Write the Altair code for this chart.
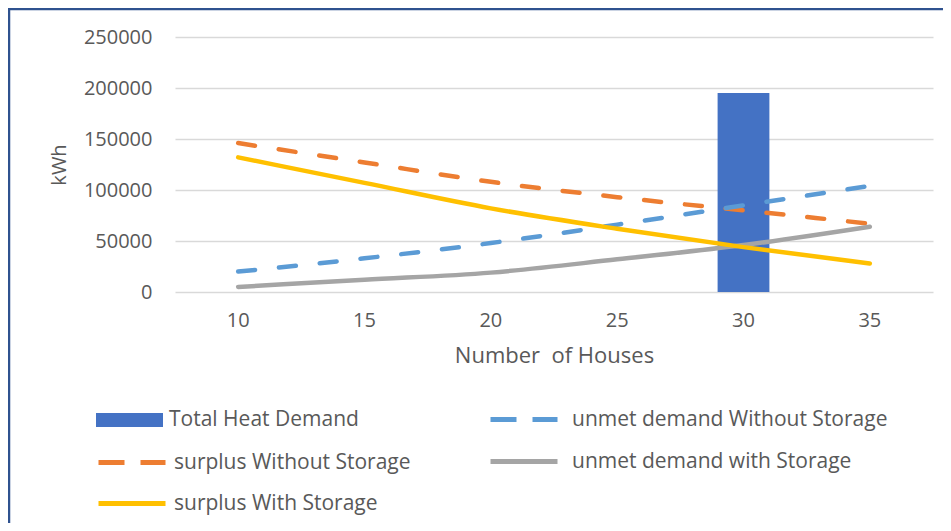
import altair as alt
import pandas as pd

houses = ["10", "15", "20", "25", "30", "35"]
total_heat_demand = [None, None, None, None, 195000, None]
surplus_without = [146000, 127000, 108000, 93000, 80000, 67000]
surplus_with = [132000, 107000, 82000, 62000, 44000, 28000]
unmet_without = [20000, 33000, 48000, 66000, 85000, 104000]
unmet_with = [5000, 12000, 19000, 32000, 46000, 64000]

series_names = [
    "Total Heat Demand",
    "unmet demand Without Storage",
    "surplus Without Storage",
    "unmet demand with Storage",
    "surplus With Storage",
]
series_colors = ["#4472C4", "#5B9BD5", "#ED7D31", "#A5A5A5", "#FFC000"]
series_values = [total_heat_demand, unmet_without, surplus_without, unmet_with, surplus_with]
series_dashed = [False, True, True, False, False]

rows = []
for name, vals in zip(series_names, series_values):
    for h, v in zip(houses, vals):
        if v is not None:
            rows.append({"houses": h, "series": name, "value": v})
df = pd.DataFrame(rows)

FONT = "Open Sans"
TXT = "#595959"

SYM = 67
SYM_SIZE = SYM * SYM
HALF = SYM / 2
# legend placement (relative to plot area origin): (x, y, labelOffset)
leg_pos = {
    "Total Heat Demand": (-79, 383 - HALF, 6),
    "surplus Without Storage": (-79, 423 - HALF, 6),
    "surplus With Storage": (-79, 464 - HALF, 6),
    "unmet demand Without Storage": (313, 380 - HALF, 12),
    "unmet demand with Storage": (313, 422 - HALF, 12),
}

x_enc = alt.X(
    "houses:N",
    sort=houses,
    scale=alt.Scale(paddingInner=0.59, paddingOuter=0.295),
    axis=alt.Axis(
        title="Number\u00a0 of Houses",
        labelAngle=0,
        ticks=False,
        domain=False,
        labelPadding=18,
        titlePadding=15,
        labelFont=FONT,
        labelFontSize=20,
        labelColor=TXT,
        titleFont=FONT,
        titleFontSize=22,
        titleFontWeight="normal",
        titleColor=TXT,
    ),
)
y_enc = alt.Y(
    "value:Q",
    scale=alt.Scale(domain=[0, 250000], nice=False),
    axis=alt.Axis(
        title="kWh",
        values=[0, 50000, 100000, 150000, 200000, 250000],
        format="d",
        ticks=False,
        domain=False,
        labelPadding=23,
        titlePadding=14,
        labelFont=FONT,
        labelFontSize=20,
        labelColor=TXT,
        titleFont=FONT,
        titleFontSize=20,
        titleFontWeight="normal",
        titleColor=TXT,
        gridColor="#D9D9D9",
        gridWidth=1.5,
    ),
)

base = alt.Chart(df)

layers = []

border = alt.Chart(pd.DataFrame({"k": [0]})).mark_rect(
    fill="transparent", stroke="#2F528F", strokeWidth=2.5
).encode(
    x=alt.value(-166), x2=alt.value(800), y=alt.value(-28), y2=alt.value(520)
)
layers.append(border)

for name, color, dashed in zip(series_names, series_colors, series_dashed):
    lx, ly, loff = leg_pos[name]
    if name == "Total Heat Demand":
        layer = base.transform_filter(alt.datum.series == name).mark_bar().encode(
            x=x_enc,
            y=y_enc,
            fill=alt.Fill(
                "series:N",
                scale=alt.Scale(domain=[name], range=[color]),
                legend=alt.Legend(
                    title=None,
                    orient="none",
                    legendX=lx,
                    legendY=ly,
                    padding=0,
                    symbolType="M-1,-0.21H1V0.21H-1Z",
                    symbolSize=SYM_SIZE,
                    symbolStrokeWidth=0,
                    labelFont=FONT,
                    labelFontSize=21,
                    labelColor=TXT,
                    labelOffset=loff,
                    labelLimit=400,
                ),
            ),
        )
    else:
        legend_kwargs = dict(
            title=None,
            orient="none",
            legendX=lx,
            legendY=ly,
            padding=0,
            symbolType="stroke",
            symbolSize=SYM_SIZE,
            symbolStrokeWidth=5,
            labelFont=FONT,
            labelFontSize=21,
            labelColor=TXT,
            labelOffset=loff,
            labelLimit=400,
        )
        mark_kwargs = dict(strokeWidth=4.5, interpolate="monotone", strokeCap="round")
        if dashed:
            legend_kwargs["symbolDash"] = [26, 16]
            mark_kwargs["strokeDash"] = [17, 24]
        layer = base.transform_filter(alt.datum.series == name).mark_line(**mark_kwargs).encode(
            x=x_enc,
            y=y_enc,
            stroke=alt.Stroke(
                "series:N",
                scale=alt.Scale(domain=[name], range=[color]),
                legend=alt.Legend(**legend_kwargs),
            ),
        )
    layers.append(layer)

# draw order: border, bar, then lines
order = [0, 1, 3, 2, 4, 5]
chart = alt.layer(*[layers[i] for i in order]).resolve_scale(
    stroke="independent", fill="independent"
).resolve_legend(
    stroke="independent", fill="independent"
).properties(
    width=758,
    height=255,
    autosize=alt.AutoSizeParams(type="none"),
    padding={"left": 167, "top": 29, "right": 10, "bottom": 231},
    background="white",
).configure_view(stroke=None)

chart.save("out.html", embed_options={"renderer": "svg", "actions": False})
